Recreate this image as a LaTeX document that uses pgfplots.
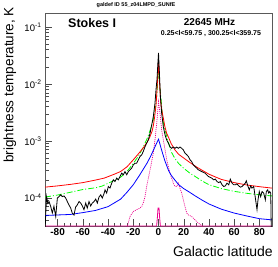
\documentclass[border=0pt]{standalone}
\usepackage{pgfplots}
\pgfplotsset{compat=1.18}
\usepackage{fontspec}
\setmainfont{Liberation Sans}
\begin{document}
\begin{tikzpicture}
\useasboundingbox (0pt,0pt) rectangle (278pt,267pt);
\begin{axis}[
  at={(45pt,41pt)}, anchor=south west,
  scale only axis, width=227pt, height=213pt,
  ymode=log, xmin=-90, xmax=90, ymin=3.2e-5, ymax=0.176,
  xtick={-80,-60,-40,-20,0,20,40,60,80},
  xticklabels={-80,-60,-40,-20,0,20,40,60,80},
  minor x tick num=3,
  ytick={1e-4,1e-3,1e-2,1e-1},
  yticklabels={10\textsuperscript{-4},10\textsuperscript{-3},10\textsuperscript{-2},10\textsuperscript{-1}},
  minor ytick={4e-5,5e-5,6e-5,7e-5,8e-5,9e-5,2e-4,3e-4,4e-4,5e-4,6e-4,7e-4,8e-4,9e-4,2e-3,3e-3,4e-3,5e-3,6e-3,7e-3,8e-3,9e-3,2e-2,3e-2,4e-2,5e-2,6e-2,7e-2,8e-2,9e-2},
  tick align=inside, xtick pos=bottom, ytick pos=left,
  major tick length=7pt, minor tick length=3.5pt,
  every tick/.style={black!70},
  axis line style={black!65, line width=0.8pt},
  xticklabel style={font=\bfseries\fontsize{10}{11}\selectfont, yshift=1pt},
  yticklabel style={font=\fontsize{9.5}{10}\selectfont},
]
% magenta solid
\addplot[magenta, line width=0.8pt] coordinates {
(-90,3.2e-5) (-1.5,3.2e-5) (-0.9,4.5e-5) (-0.4,6.6e-5) (0.4,6.6e-5) (0.9,4.5e-5) (1.5,3.2e-5) (90,3.2e-5)};
% magenta dotted
\addplot[magenta, line width=0.7pt, dash pattern=on 1pt off 1pt] coordinates {
(-26,2.5e-5) (-24,3.6e-5) (-22.6,4.7e-5) (-20,5.75e-5) (-17.3,6.2e-5) (-14.7,6.6e-5) (-13.3,7.0e-5) (-12.1,8.1e-5) (-10.7,1.05e-4) (-9.4,1.58e-4) (-6.7,3.1e-4) (-4.1,6.1e-4) (-2.8,1.04e-3) (-1.4,2.05e-3) (0,4.9e-3) (1.2,3.06e-3) (2.5,1.56e-3) (3.8,1.04e-3) (5.2,6.95e-4) (6.5,4.65e-4) (7.8,3.54e-4) (9.1,2.71e-4) (10.4,2.22e-4) (11.8,1.81e-4) (13.1,1.58e-4) (14.4,1.58e-4) (15.7,1.81e-4) (17,1.48e-4) (18.4,1.21e-4) (19.7,9.2e-5) (21,7.0e-5) (22.4,5.4e-5) (23.7,5.0e-5) (26.3,4.7e-5) (29,4.1e-5) (31.6,3.6e-5) (34.3,3.25e-5) (36,2.5e-5)};
% blue
\addplot[blue, line width=0.8pt] coordinates {
(-90,4.9e-5) (-80,5.0e-5) (-70,5.1e-5) (-60,5.5e-5) (-50,6.0e-5) (-40,7.0e-5) (-30,9.5e-5) (-25,1.25e-4) (-20,1.7e-4) (-15,2.5e-4) (-12,3.2e-4) (-9,4.1e-4) (-6,5.5e-4) (-4,6.9e-4) (-2,8.6e-4) (-1,9.6e-4) (0,1.07e-3) (1,9.0e-4) (2,7.5e-4) (3,6.3e-4) (5,4.5e-4) (8,3.0e-4) (10,2.5e-4) (13,2.05e-4) (16,1.7e-4) (20,1.45e-4) (24,1.28e-4) (30,1.05e-4) (35,9.0e-5) (40,7.8e-5) (45,7.0e-5) (50,6.3e-5) (60,5.4e-5) (70,4.8e-5) (80,4.3e-5) (90,4.1e-5)};
% green dash-dot
\addplot[green, line width=0.8pt, dash pattern=on 6pt off 2pt on 1pt off 2pt] coordinates {
(-90,1.03e-4) (-80,1.12e-4) (-70,1.25e-4) (-60,1.4e-4) (-50,1.5e-4) (-45,1.6e-4) (-40,1.8e-4) (-30,2.3e-4) (-25,2.9e-4) (-20,4.0e-4) (-15,5.8e-4) (-12,7.9e-4) (-9,1.1e-3) (-7,1.45e-3) (-5,2.0e-3) (-4,2.4e-3) (-3,3.2e-3) (-2,4.5e-3) (-1,8.0e-3) (0,2.0e-2) (1,9.0e-3) (2,5.5e-3) (3,3.0e-3) (4,2.0e-3) (5,1.6e-3) (7,1.1e-3) (10,6.5e-4) (13,4.9e-4) (16,4.0e-4) (20,3.3e-4) (25,2.7e-4) (30,2.3e-4) (35,1.95e-4) (40,1.7e-4) (50,1.45e-4) (60,1.3e-4) (70,1.2e-4) (80,1.13e-4) (90,1.08e-4)};
% red
\addplot[red, line width=0.8pt] coordinates {
(-90,1.54e-4) (-80,1.62e-4) (-70,1.72e-4) (-60,1.85e-4) (-50,2.05e-4) (-43,2.22e-4) (-35,2.6e-4) (-30,2.9e-4) (-25,3.5e-4) (-20,4.65e-4) (-16,5.9e-4) (-12,7.6e-4) (-9,9.5e-4) (-7,1.15e-3) (-5,1.5e-3) (-4,1.9e-3) (-3,2.7e-3) (-2,4.2e-3) (-1.5,6.0e-3) (-1,9.5e-3) (-0.5,1.6e-2) (0,2.64e-2) (0.5,1.5e-2) (1,9.0e-3) (1.5,5.8e-3) (2,4.3e-3) (3,3.1e-3) (4,2.4e-3) (5,1.8e-3) (6.5,1.35e-3) (8,1.15e-3) (10,9.0e-4) (13,6.95e-4) (16,5.8e-4) (20,5.0e-4) (24,4.3e-4) (30,3.5e-4) (34,3.1e-4) (40,2.6e-4) (45,2.33e-4) (50,2.1e-4) (60,1.85e-4) (70,1.68e-4) (80,1.57e-4) (90,1.48e-4)};
% black data
\addplot[black, line width=0.8pt] coordinates {
(-90,2.5e-5) (-89.3,6e-5) (-88.7,1.05e-4) (-87.8,8e-5) (-86.8,8.6e-5) (-85.5,7.1e-5) (-84.2,5.4e-5) (-82.9,7.1e-5) (-81.5,4.7e-5) (-80.2,9.9e-5) (-78.9,1.05e-4) (-77.6,1.13e-4) (-76.3,1.05e-4) (-74.9,1.08e-4) (-73.6,9.9e-5) (-72.3,8.6e-5) (-71,7.5e-5) (-69.6,6.6e-5) (-68.4,5.4e-5) (-67,5.0e-5) (-65.7,6.9e-5) (-64.4,7.5e-5) (-63,8.6e-5) (-61.7,8.1e-5) (-60.4,7.2e-5) (-59.1,6.2e-5) (-57.7,8.1e-5) (-56.5,6.6e-5) (-55.1,8.6e-5) (-53.8,7.2e-5) (-52.5,8.1e-5) (-51.1,8.6e-5) (-49.8,9.5e-5) (-48.5,8.1e-5) (-47.2,1.03e-4) (-45.8,1.13e-4) (-44.6,9.9e-5) (-43.2,1.18e-4) (-42.4,1.38e-4) (-41.1,1.21e-4) (-39.8,1.58e-4) (-38.5,1.48e-4) (-37.1,1.81e-4) (-35.8,2.07e-4) (-34.5,1.93e-4) (-33.1,2.22e-4) (-31.9,2.07e-4) (-30.5,2.37e-4) (-29.2,2.71e-4) (-27.9,2.54e-4) (-26.6,2.89e-4) (-25.2,2.54e-4) (-23.9,2.89e-4) (-22.6,3.1e-4) (-21.3,3.32e-4) (-20,3.79e-4) (-18.6,4.06e-4) (-17.3,4.06e-4) (-16,4.65e-4) (-14.7,5.3e-4) (-13.3,5.7e-4) (-12.1,6.5e-4) (-10.7,7.9e-4) (-9.4,9.1e-4) (-8.1,1.04e-3) (-6.7,1.36e-3) (-5.4,1.91e-3) (-4.1,2.67e-3) (-2.8,4.58e-3) (-2,7.85e-3) (-1.2,1.2e-2) (-0.5,2.3e-2) (0,3.5e-2) (0.6,1.8e-2) (1.5,6.0e-3) (2.5,3.06e-3) (3.8,1.78e-3) (5.2,1.27e-3) (6.5,1.04e-3) (7.8,9.1e-4) (9.1,7.9e-4) (10.4,7.4e-4) (11.8,7.8e-4) (13.1,7.4e-4) (14.4,7.8e-4) (15.7,7.4e-4) (17,7.8e-4) (18.4,7.4e-4) (19.7,6.95e-4) (21,6.1e-4) (22.4,5.7e-4) (23.7,5.3e-4) (25,4.65e-4) (26.3,4.34e-4) (27.6,3.79e-4) (29,3.54e-4) (30.3,3.32e-4) (31.6,3.1e-4) (34.3,2.89e-4) (36.9,2.71e-4) (39.5,2.37e-4) (42.2,2.22e-4) (43.8,2.07e-4) (45.1,2.13e-4) (46.4,1.93e-4) (47.7,1.85e-4) (49,1.93e-4) (50.4,1.69e-4) (51.7,1.58e-4) (53,1.62e-4) (54.3,1.81e-4) (55.7,1.69e-4) (56.9,2.13e-4) (58.3,1.81e-4) (59.6,1.69e-4) (60.9,1.69e-4) (62.2,1.76e-4) (63.6,1.62e-4) (64.9,1.54e-4) (66.2,1.58e-4) (67.6,1.69e-4) (68.8,1.81e-4) (69.6,1.99e-4) (71,1.58e-4) (72,1.38e-4) (73.1,1.62e-4) (74.1,1.48e-4) (75.5,1.58e-4) (76.8,9.9e-5) (78.1,6.2e-5) (78.9,9.2e-5) (79.9,1.29e-4) (81,1.05e-4) (82.1,1.29e-4) (83.4,1.21e-4) (84.7,9.2e-5) (85.5,1.29e-4) (86.6,1.38e-4) (87.4,1.21e-4) (88.2,1.29e-4) (89,1.2e-4) (89.5,2e-5)};
\end{axis}
\node[font=\bfseries\fontsize{5.5}{6}\selectfont] at (136pt,262pt) {galdef ID 55\_z04LMPD\_SUNfE};
\node[font=\bfseries\fontsize{12.5}{13}\selectfont, anchor=west, inner sep=0pt] at (68pt,243.5pt) {Stokes I};
\node[font=\bfseries\fontsize{10}{11}\selectfont, inner sep=0pt] at (209.5pt,244.5pt) {22645 MHz};
\node[font=\bfseries\fontsize{7}{8}\selectfont, inner sep=0pt] at (211pt,233.7pt) {0.25<l<59.75 , 300.25<l<359.75};
\node[font=\fontsize{13.5}{14}\selectfont, rotate=90, anchor=east, inner sep=0pt] at (10pt,260pt) {brightness temperature, K};
\node[font=\fontsize{14}{15}\selectfont, anchor=east, inner sep=0pt] at (273pt,16pt) {Galactic latitude};
\end{tikzpicture}
\end{document}
